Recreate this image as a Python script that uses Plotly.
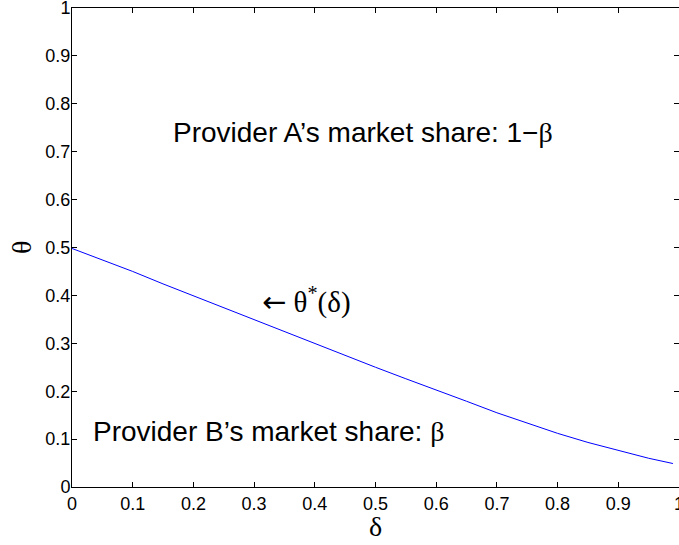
import plotly.graph_objects as go

delta = [0.0, 0.05, 0.1, 0.15, 0.2, 0.25, 0.3, 0.35, 0.4, 0.45, 0.5, 0.55, 0.6, 0.65, 0.7, 0.75, 0.8, 0.85, 0.9, 0.95, 0.99]
theta = [0.498, 0.474, 0.450, 0.424, 0.399, 0.374, 0.349, 0.324, 0.299, 0.274, 0.250, 0.226, 0.203, 0.179, 0.155, 0.133, 0.112, 0.093, 0.076, 0.060, 0.049]

tick_vals = [0, 0.1, 0.2, 0.3, 0.4, 0.5, 0.6, 0.7, 0.8, 0.9, 1]
tick_text = ["0", "0.1", "0.2", "0.3", "0.4", "0.5", "0.6", "0.7", "0.8", "0.9", "1"]

fig = go.Figure()
fig.add_trace(go.Scatter(x=delta, y=theta, mode="lines",
                         line=dict(color="rgb(0,0,255)", width=1), showlegend=False))

sans = "Liberation Sans, Arial, Helvetica"
serif = "Liberation Serif, Times New Roman"

fig.add_annotation(x=0.163, y=0.741, xanchor="left",
                   text="Provider A\u2019s market share: 1\u2212<span style='font-family:Liberation Serif'>\u03b2</span>",
                   showarrow=False, font=dict(family=sans, size=28, color="black"))
fig.add_annotation(x=0.032, y=0.115, xanchor="left",
                   text="Provider B\u2019s market share: <span style='font-family:Liberation Serif'>\u03b2</span>",
                   showarrow=False, font=dict(family=sans, size=28, color="black"))
fig.add_annotation(x=0.310, y=0.39, xanchor="left",
                   text="<span style='font-family:DejaVu Sans'>\u2190</span> \u03b8<sup>*</sup>(\u03b4)",
                   showarrow=False, font=dict(family=serif, size=29, color="black"))

# axis titles
fig.add_annotation(xref="paper", yref="paper", x=0.5, y=-0.0835, yanchor="middle",
                   text="\u03b4", showarrow=False, font=dict(family=serif, size=28, color="black"))
fig.add_annotation(xref="paper", yref="paper", x=-0.083, y=0.5, xanchor="center", yanchor="middle",
                   text="\u03b8", textangle=-90, showarrow=False, font=dict(family=serif, size=28, color="black"))

axis_common = dict(range=[0, 1], tickvals=tick_vals, ticktext=tick_text,
                   ticks="inside", ticklen=5, tickwidth=1, tickcolor="black",
                   showline=True, linecolor="black", linewidth=1, mirror="ticks",
                   showgrid=False, zeroline=False, automargin=False,
                   ticklabeloverflow="allow",
                   tickfont=dict(family=sans, size=18, color="black"))

fig.update_xaxes(**axis_common)
fig.update_yaxes(**axis_common, ticklabelstandoff=-3)

fig.update_layout(width=679, height=545, margin=dict(l=72, r=0, t=8, b=58),
                  plot_bgcolor="white", paper_bgcolor="white")

fig.write_html("out.html", config={"displayModeBar": False},
               post_script="document.body.style.margin='0';document.body.style.overflow='hidden';")
